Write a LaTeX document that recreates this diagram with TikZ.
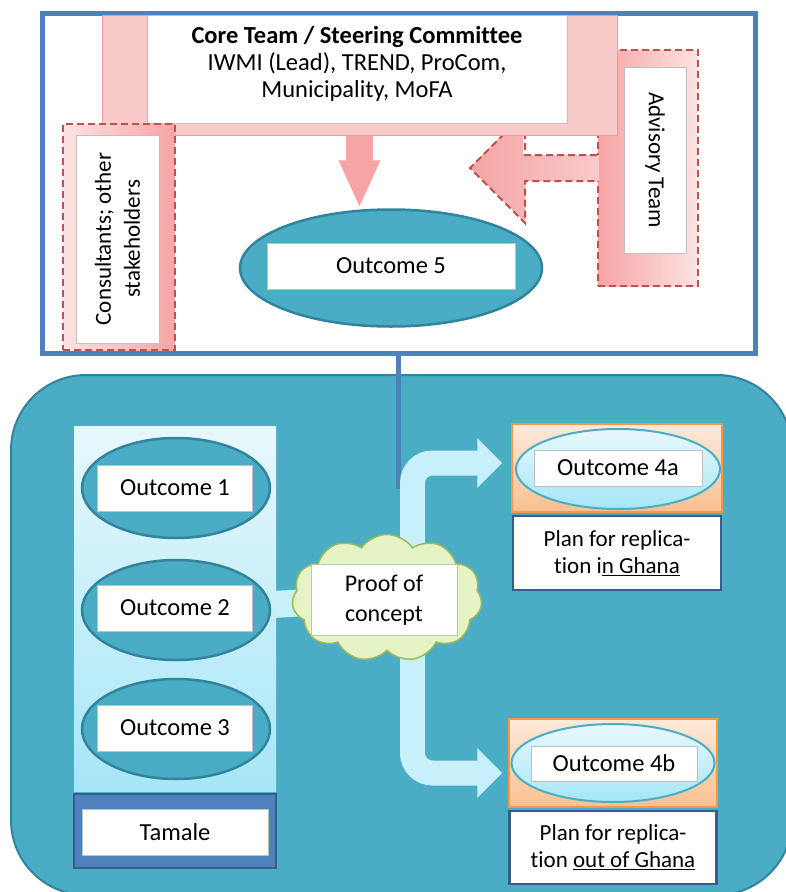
\documentclass[tikz,border=0pt]{standalone}
\usepackage{fontspec}
\setmainfont{Carlito}[Ligatures=NoCommon]
\usetikzlibrary{positioning,calc,shapes.geometric,shapes.symbols,arrows.meta}
\pgfdeclarelayer{bg}
\pgfdeclarelayer{flows}
\pgfsetlayers{bg,flows,main}
\definecolor{frameblue}{HTML}{4F81BD}
\definecolor{navy}{HTML}{385D8A}
\definecolor{tealfill}{HTML}{4BACC6}
\definecolor{tealedge}{HTML}{31849B}
\definecolor{pinkfill}{HTML}{F9CACA}
\definecolor{pinklight}{HTML}{FDE3E3}
\definecolor{pinkdark}{HTML}{F6A4A4}
\definecolor{pinkedge}{HTML}{E79C9B}
\definecolor{redline}{HTML}{C0504D}
\definecolor{skylight}{HTML}{E8F8FC}
\definecolor{sky}{HTML}{A6E6F7}
\definecolor{flowblue}{HTML}{C8F0FA}
\definecolor{peachlight}{HTML}{FDEADA}
\definecolor{peach}{HTML}{FAC090}
\definecolor{orangeedge}{HTML}{F79646}
\definecolor{cloudfill}{HTML}{E6F3C4}
\definecolor{cloudedge}{HTML}{9BBB59}
\begin{document}
\begin{tikzpicture}[x=1pt, y=-1pt, font=\fontsize{24.5}{27}\selectfont,
  whitebox/.style = {draw=black!25, line width=1pt, fill=white, inner sep=0pt, align=center},
  outcome/.style = {ellipse, draw=tealedge, line width=2.5pt, fill=tealfill, minimum width=188pt, minimum height=100pt},
  dashbox/.style = {draw=redline, line width=2pt, dash pattern=on 7pt off 4pt, inner sep=0pt},
  pinkarrow/.style = {line width=27pt, pinkdark, -{Triangle[length=48pt, width=38pt]}},
  flow/.style = {line width=25pt, flowblue, rounded corners=20pt, -{Triangle[length=25pt, width=48pt]}},
  orangebg/.style = {draw=orangeedge, line width=1.5pt, top color=peachlight, bottom color=peach, minimum width=210pt, minimum height=88pt},
  replica/.style = {ellipse, draw=tealfill, line width=2pt, top color=skylight, bottom color=sky, minimum width=204pt, minimum height=80pt},
  plan/.style = {draw=navy, line width=2.5pt, fill=white, minimum width=208pt, minimum height=74pt, align=center, font=\fontsize{23}{27}\selectfont}]
\useasboundingbox (0,0) rectangle (786,892);
\clip (0,0) rectangle (786,892);

% upper part: steering
\node[draw=frameblue, line width=5pt, fill=white, minimum width=713pt, minimum height=340pt] (frame) at (398.5,183) {};

\node[dashbox, left color=pinkdark, right color=pinklight, minimum width=100pt, minimum height=236pt] (adv) at (648,168) {};
\node[whitebox, rotate=-90, minimum width=186pt, minimum height=62pt, font=\fontsize{23}{27}\selectfont] (advtext) at (655,160) {Advisory Team};
\shade[left color=pinkdark, right color=pinkfill] ($(adv.west)+(2,-13)$) -- ++(-76,0) -- ++(0,-42) -- ($(adv.west)+(-127,0)$) -- ($(adv.west)+(-72,55)$) -- ++(0,-42) -- ($(adv.west)+(2,13)$) -- cycle;
\draw[redline, line width=2pt, dash pattern=on 7pt off 4pt] ($(adv.west)+(0,-13)$) -- ++(-72,0) -- ++(0,-42) -- ($(adv.west)+(-127,0)$) -- ($(adv.west)+(-72,55)$) -- ++(0,-42) -- ($(adv.west)+(0,13)$);

\node[draw=pinkedge, line width=1pt, fill=pinkfill, minimum width=515pt, minimum height=120pt] (band) at (359.5,75) {};
\node[whitebox, minimum width=420pt, minimum height=108pt] (core) at (357,69) {};
\node[align=center] (coretext) at (357,63.5) {\textbf{Core Team / Steering Committee}\\IWMI (Lead), TREND, ProCom,\\Municipality, MoFA};

\node[outcome, minimum width=302pt, minimum height=117pt] (o5) at (391,268) {};
\node[whitebox, minimum width=248pt, minimum height=46pt] (o5text) at (391,266) {Outcome 5};
\draw[pinkarrow] (band.south) -- (band.south |- o5.north);

\node[dashbox, left color=pinklight, right color=pinkdark, minimum width=112pt, minimum height=226pt] (cons) at (119,237) {};
\node[whitebox, rotate=90, minimum width=208pt, minimum height=83pt, font=\fontsize{23}{29}\selectfont] (constext) at (117.5,239) {Consultants; other\\stakeholders};

% lower part: Tamale
\begin{pgfonlayer}{bg}
\node[draw=tealedge, line width=2pt, fill=tealfill, rounded corners=75pt, minimum width=781pt, minimum height=520pt] (site) at (401.5,635) {};
\end{pgfonlayer}

\node[top color=skylight, bottom color=sky, minimum width=202pt, minimum height=365pt] (col) at (175,608.5) {};
\node[outcome] (o1) at (176,488) {};
\node[outcome] (o2) at (176,610) {};
\node[outcome] (o3) at (176,729) {};
\node[whitebox, minimum width=155pt, minimum height=46pt] (o1text) at (175,488) {Outcome 1};
\node[whitebox, minimum width=155pt, minimum height=46pt] (o2text) at (175,608) {Outcome 2};
\node[whitebox, minimum width=155pt, minimum height=46pt] (o3text) at (175,728) {Outcome 3};

\node[draw=navy, line width=2pt, fill=frameblue, minimum width=202pt, minimum height=74pt] (tam) at (175,831) {};
\node[whitebox, minimum width=186pt, minimum height=46pt] (tamtext) at (175,832) {Tamale};

\node[cloud, cloud puffs=11, cloud puff arc=110, aspect=1.5, draw=cloudedge, line width=1.5pt, fill=cloudfill, minimum width=190pt, minimum height=127pt] (cloud) at (387,598) {};
\node[whitebox, minimum width=146pt, minimum height=71pt, font=\fontsize{24}{30}\selectfont] (poc) at (384,600) {Proof of\\concept};

\node[orangebg] (o4abg) at (617,468) {};
\node[replica] (o4a) at (618,469) {};
\node[whitebox, minimum width=168pt, minimum height=36pt] (o4atext) at (618,468) {Outcome 4a};
\node[plan, below=2pt of o4abg] (plan4a) {Plan for replica-\\tion i\underline{n Ghana}};

\node[orangebg, minimum width=208pt] (o4bbg) at (613,763) {};
\node[replica, minimum width=203pt, minimum height=78pt] (o4b) at (613,763) {};
\node[whitebox, minimum width=166pt, minimum height=35pt] (o4btext) at (614,763.5) {Outcome 4b};
\node[plan, minimum width=207pt, minimum height=73pt, below=2pt of o4bbg] (plan4b) {Plan for replica-\\tion \underline{out of Ghana}};

\begin{pgfonlayer}{flows}
\coordinate (split) at (412.5,489);
\coordinate (tip4a) at ($(o4abg.west)+(-9,-5)$);
\coordinate (tip4b) at ($(o4bbg.west)+(-6,10)$);
\draw[frameblue, line width=5pt] (frame.south) -- (frame.south |- split);
\draw[flowblue, line width=27pt] (o2.center) -- (cloud.center);
\draw[flow] (split |- cloud.center) |- (tip4a);
\draw[flow] (split |- cloud.center) |- (tip4b);
\end{pgfonlayer}
\end{tikzpicture}
\end{document}
